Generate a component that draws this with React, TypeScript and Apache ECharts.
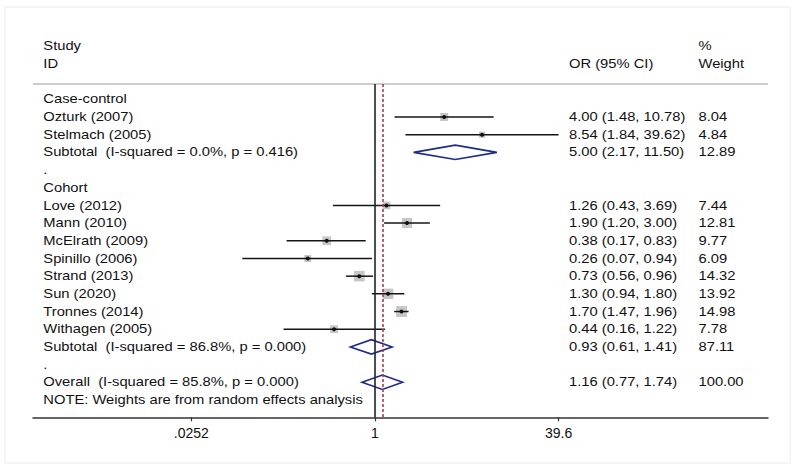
import React, { useEffect, useRef } from "react";
import * as echarts from "echarts";

// ---- data ----
const studyNames = [
  "Ozturk (2007)",
  "Stelmach (2005)",
  "Love (2012)",
  "Mann (2010)",
  "McElrath (2009)",
  "Spinillo (2006)",
  "Strand (2013)",
  "Sun (2020)",
  "Tronnes (2014)",
  "Withagen (2005)",
];
const studyOR = [4.0, 8.54, 1.26, 1.9, 0.38, 0.26, 0.73, 1.3, 1.7, 0.44];
const studyLower = [1.48, 1.84, 0.43, 1.2, 0.17, 0.07, 0.56, 0.94, 1.47, 0.16];
const studyUpper = [10.78, 39.62, 3.69, 3.0, 0.83, 0.94, 0.96, 1.8, 1.96, 1.22];
const studyWeight = [8.04, 4.84, 7.44, 12.81, 9.77, 6.09, 14.32, 13.92, 14.98, 7.78];
const studyRows = [1, 2, 6, 7, 8, 9, 10, 11, 12, 13];

const poolLabels = [
  "Subtotal  (I-squared = 0.0%, p = 0.416)",
  "Subtotal  (I-squared = 86.8%, p = 0.000)",
  "Overall  (I-squared = 85.8%, p = 0.000)",
];
const poolOR = [5.0, 0.93, 1.16];
const poolLower = [2.17, 0.61, 0.77];
const poolUpper = [11.5, 1.41, 1.74];
const poolWeight = [12.89, 87.11, 100.0];
const poolRows = [3, 14, 16];

const groupNames = ["Case-control", "Cohort"];
const groupRows = [0, 5];
const spacerRows = [4, 15];
const noteText = "NOTE: Weights are from random effects analysis";
const noteRow = 17;

const tickValues = [0.0252, 1, 39.6];
const tickLabels = [".0252", "1", "39.6"];
const overallOR = 1.16;

// ---- layout ----
const FONT = "'Liberation Sans', Arial, Helvetica, sans-serif";
const FS = 12.6;
const SCALE_X = 1.17;
const TEXT_COLOR = "#111111";
const X_MIN = -6.854;
const X_MAX = 7.876;
const Y_MIN = -0.865;
const Y_MAX = 17.98;
const COL_LABEL = 10.3;
const COL_OR = 536;
const COL_WEIGHT = 665.5;

const fmt = (v: number) => v.toFixed(2);

type TextItem = { row: number; col: number; text: string };

function buildTexts(): TextItem[] {
  const items: TextItem[] = [];
  items.push({ row: -3, col: COL_LABEL, text: "Study" });
  items.push({ row: -2, col: COL_LABEL, text: "ID" });
  items.push({ row: -2, col: COL_OR, text: "OR (95% CI)" });
  items.push({ row: -3, col: COL_WEIGHT, text: "%" });
  items.push({ row: -2, col: COL_WEIGHT, text: "Weight" });
  groupNames.forEach((g, i) => items.push({ row: groupRows[i], col: COL_LABEL, text: g }));
  spacerRows.forEach((r) => items.push({ row: r, col: COL_LABEL, text: "." }));
  items.push({ row: noteRow, col: COL_LABEL, text: noteText });
  studyNames.forEach((n, i) => {
    items.push({ row: studyRows[i], col: COL_LABEL, text: n });
    items.push({
      row: studyRows[i],
      col: COL_OR,
      text: `${fmt(studyOR[i])} (${fmt(studyLower[i])}, ${fmt(studyUpper[i])})`,
    });
    items.push({ row: studyRows[i], col: COL_WEIGHT, text: fmt(studyWeight[i]) });
  });
  poolLabels.forEach((n, i) => {
    items.push({ row: poolRows[i], col: COL_LABEL, text: n });
    items.push({
      row: poolRows[i],
      col: COL_OR,
      text: `${fmt(poolOR[i])} (${fmt(poolLower[i])}, ${fmt(poolUpper[i])})`,
    });
    items.push({ row: poolRows[i], col: COL_WEIGHT, text: fmt(poolWeight[i]) });
  });
  return items;
}

export default function App() {
  const ref = useRef<HTMLDivElement>(null);

  useEffect(() => {
    if (!ref.current) return;
    const chart = echarts.init(ref.current, undefined, { renderer: "svg" });
    const texts = buildTexts();

    const studyData = studyNames.map((_, i) => [
      Math.log(studyOR[i]),
      Math.log(studyLower[i]),
      Math.log(studyUpper[i]),
      studyRows[i],
      studyWeight[i],
    ]);
    const poolData = poolLabels.map((_, i) => [
      Math.log(poolOR[i]),
      Math.log(poolLower[i]),
      Math.log(poolUpper[i]),
      poolRows[i],
      poolWeight[i],
    ]);

    const option: any = {
      animation: false,
      backgroundColor: "#ffffff",
      graphic: [
        {
          type: "rect",
          shape: { x: 5, y: 7, width: 785, height: 456 },
          style: { fill: "none", stroke: "#e8edf2", lineWidth: 1 },
          silent: true,
        },
      ],
      grid: { left: 33, right: 29, top: 84, bottom: 52.7, containLabel: false },
      xAxis: {
        type: "value",
        min: X_MIN,
        max: X_MAX,
        axisLine: { show: true, onZero: false, lineStyle: { color: "#333", width: 1.5 } },
        axisTick: {
          show: true,
          length: 4,
          customValues: tickValues.map((v) => Math.log(v)),
          lineStyle: { color: "#333", width: 1.2 },
        },
        axisLabel: {
          show: true,
          customValues: tickValues.map((v) => Math.log(v)),
          margin: 9,
          fontFamily: FONT,
          fontSize: 14,
          color: TEXT_COLOR,
          formatter: (v: number) => {
            let best = 0;
            tickValues.forEach((t, i) => {
              if (Math.abs(Math.log(t) - v) < Math.abs(Math.log(tickValues[best]) - v)) best = i;
            });
            return tickLabels[best];
          },
        },
        splitLine: { show: false },
      },
      yAxis: {
        type: "value",
        min: Y_MIN,
        max: Y_MAX,
        inverse: true,
        show: false,
        splitLine: { show: false },
      },
      series: [
        {
          type: "custom",
          name: "lines",
          data: [[0, 0]],
          renderItem: () => ({ type: "group", children: [] }),
          markLine: {
            silent: true,
            symbol: "none",
            label: { show: false },
            data: [
              { yAxis: Y_MIN, lineStyle: { color: "#cdcdcd", width: 2, type: "solid" } },
              { xAxis: 0, lineStyle: { color: "#222", width: 1.6, type: "solid" } },
              {
                xAxis: Math.log(overallOR),
                lineStyle: { color: "#b23a4a", width: 1.6, type: [3, 2] },
              },
            ],
          },
        },
        {
          type: "custom",
          name: "studies",
          encode: { x: [0, 1, 2], y: 3 },
          data: studyData,
          renderItem: (_params: any, api: any) => {
            const row = api.value(3);
            const c = api.coord([api.value(0), row]);
            const lo = api.coord([api.value(1), row]);
            const hi = api.coord([api.value(2), row]);
            const side = 2.8 * Math.sqrt(api.value(4));
            return {
              type: "group",
              children: [
                {
                  type: "rect",
                  shape: { x: c[0] - side / 2, y: c[1] - side / 2, width: side, height: side },
                  style: { fill: "#c6c6c6" },
                },
                {
                  type: "line",
                  shape: { x1: lo[0], y1: lo[1], x2: hi[0], y2: hi[1] },
                  style: { stroke: "#151515", lineWidth: 1.5 },
                },
                {
                  type: "circle",
                  shape: { cx: c[0], cy: c[1], r: 2 },
                  style: { fill: "#111" },
                },
              ],
            };
          },
        },
        {
          type: "custom",
          name: "pooled",
          encode: { x: [0, 1, 2], y: 3 },
          data: poolData,
          renderItem: (_params: any, api: any) => {
            const row = api.value(3);
            const c = api.coord([api.value(0), row]);
            const lo = api.coord([api.value(1), row]);
            const hi = api.coord([api.value(2), row]);
            const h = 7.2;
            return {
              type: "polygon",
              shape: {
                points: [
                  [lo[0], lo[1]],
                  [c[0], c[1] - h],
                  [hi[0], hi[1]],
                  [c[0], c[1] + h],
                ],
              },
              style: { fill: "none", stroke: "#1f2a8a", lineWidth: 1.6 },
            };
          },
        },
        {
          type: "custom",
          name: "texts",
          clip: false,
          encode: { x: 0, y: 1 },
          data: texts.map((t) => [0, t.row]),
          renderItem: (params: any, api: any) => {
            const t = texts[params.dataIndex];
            const p = api.coord([0, api.value(1)]);
            return {
              type: "text",
              x: params.coordSys.x + t.col,
              y: p[1],
              scaleX: SCALE_X,
              style: {
                text: t.text,
                fill: TEXT_COLOR,
                fontFamily: FONT,
                fontSize: FS,
                align: "left",
                verticalAlign: "middle",
              },
            };
          },
        },
      ],
    };

    chart.setOption(option);
    return () => chart.dispose();
  }, []);

  return (
    <div
      ref={ref}
      style={{ position: "fixed", left: 0, top: 0, width: 797, height: 470, background: "#fff" }}
    />
  );
}
